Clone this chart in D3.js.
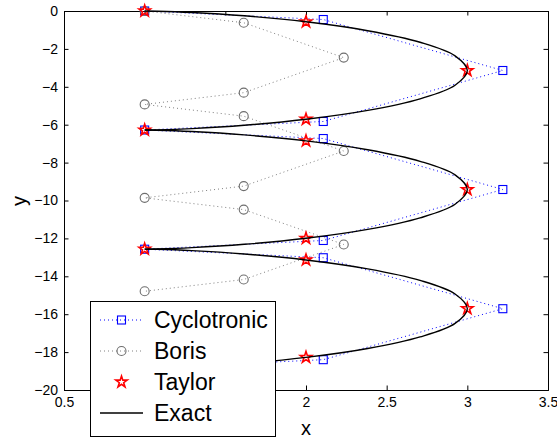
<!DOCTYPE html>
<html>
<head>
<meta charset="utf-8">
<script src="https://cdn.jsdelivr.net/npm/d3@7"></script>
<style>
  body { margin: 0; background: #fff; }
  svg { display: block; font-family: "Liberation Sans", Arial, sans-serif; }
</style>
</head>
<body>
<svg id="chart" width="557" height="438"></svg>
<script>
// values
var xTicks = [0.5, 1, 1.5, 2, 2.5, 3, 3.5];
var yTicks = [0, -2, -4, -6, -8, -10, -12, -14, -16, -18, -20];

var cycloX = [1, 2.107, 3.22, 2.107, 1, 2.107, 3.22, 2.107, 1, 2.107, 3.22, 2.107, 1];
var cycloY = [0, -0.45, -3.14, -5.83, -6.28, -6.73, -9.42, -12.11, -12.57, -13.02, -15.71, -18.40, -18.85];

var borisX = [1, 1.614, 2.234, 1.614, 1, 1.614, 2.234, 1.614, 1, 1.614, 2.234, 1.614, 1];
var borisY = [0, -0.62, -2.46, -4.31, -4.93, -5.55, -7.39, -9.24, -9.86, -10.48, -12.32, -14.17, -14.79];

var taylorX = [1, 2, 3, 2, 1, 2, 3, 2, 1, 2, 3, 2, 1];
var taylorY = [0, -0.571, -3.142, -5.712, -6.283, -6.854, -9.425, -11.996, -12.566, -13.137, -15.708, -18.279, -18.850];

// exact curve, three arches (cusp to cusp)
var exactX = [1, 1.0761, 1.2929, 1.6173, 2, 2.3827, 2.7071, 2.9239, 3, 2.9239, 2.7071, 2.3827, 2, 1.6173, 1.2929, 1.0761, 1];
var exactY1 = [0, -0.0100, -0.0783, -0.2542, -0.5708, -1.0396, -1.6491, -2.3662, -3.1416, -3.9170, -4.6341, -5.2436, -5.7124, -6.0290, -6.2049, -6.2732, -6.2832];
var exactY2 = [-6.2832, -6.2932, -6.3615, -6.5374, -6.8540, -7.3228, -7.9323, -8.6494, -9.4248, -10.2002, -10.9173, -11.5268, -11.9956, -12.3122, -12.4881, -12.5564, -12.5664];
var exactY3 = [-12.5664, -12.5764, -12.6447, -12.8206, -13.1372, -13.6060, -14.2155, -14.9326, -15.7080, -16.4834, -17.2005, -17.8100, -18.2788, -18.5954, -18.7713, -18.8396, -18.8496];

var seriesNames = ["Cyclotronic", "Boris", "Taylor", "Exact"];

const svg = d3.select("#chart"),
      axL = 64, axR = 548, axT = 11, axB = 390,
      x = d3.scaleLinear().domain([0.5, 3.5]).range([axL, axR]),
      y = d3.scaleLinear().domain([-20, 0]).range([axB, axT]);

svg.append("rect").attr("width", 557).attr("height", 438).attr("fill", "#fff");

// axes (ticks pointing inward, box all round)
const tk = 4.5;
svg.append("g").attr("transform", `translate(0,${axB})`)
   .call(d3.axisBottom(x).tickValues(xTicks).tickSize(-tk).tickPadding(7).tickFormat(d3.format("")));
svg.append("g").attr("transform", `translate(0,${axT})`)
   .call(d3.axisTop(x).tickValues(xTicks).tickSize(-tk).tickFormat(""));
svg.append("g").attr("transform", `translate(${axL},0)`)
   .call(d3.axisLeft(y).tickValues(yTicks).tickSize(-tk).tickPadding(6).tickFormat(d3.format("")));
svg.append("g").attr("transform", `translate(${axR},0)`)
   .call(d3.axisRight(y).tickValues(yTicks).tickSize(-tk).tickFormat(""));

svg.selectAll(".domain").attr("stroke", "#000").attr("stroke-width", 1);
svg.selectAll(".tick line").attr("stroke", "#000");
svg.selectAll(".tick text").style("font-size", "14px").attr("fill", "#000");

svg.append("text").attr("x", 306).attr("y", 435).attr("text-anchor", "middle")
   .style("font-size", "20px").text("x");
svg.append("text").attr("transform", "translate(26,201) rotate(-90)").attr("text-anchor", "middle")
   .style("font-size", "20px").text("y");

const pts = (xs, ys) => xs.map((v, i) => [v, ys[i]]);
const line = d3.line().x(d => x(d[0])).y(d => y(d[1]));
const smooth = d3.line().x(d => x(d[0])).y(d => y(d[1])).curve(d3.curveCatmullRom);

const cyclo = pts(cycloX, cycloY), boris = pts(borisX, borisY), taylor = pts(taylorX, taylorY);

// Cyclotronic
svg.append("path").attr("d", line(cyclo)).attr("fill", "none")
   .attr("stroke", "#0000ff").attr("stroke-width", 1).attr("stroke-dasharray", "1 3");
svg.selectAll(".sq").data(cyclo).enter().append("rect")
   .attr("x", d => x(d[0]) - 4).attr("y", d => y(d[1]) - 4)
   .attr("width", 8).attr("height", 8)
   .attr("fill", "none").attr("stroke", "#0000ff").attr("stroke-width", 1.1);

// Boris
svg.append("path").attr("d", line(boris)).attr("fill", "none")
   .attr("stroke", "#808080").attr("stroke-width", 1).attr("stroke-dasharray", "1 3");
svg.selectAll(".ci").data(boris).enter().append("circle")
   .attr("cx", d => x(d[0])).attr("cy", d => y(d[1])).attr("r", 4.5)
   .attr("fill", "none").attr("stroke", "#6e6e6e").attr("stroke-width", 1.1);

// Taylor
const star = d3.symbol().type(d3.symbolStar).size(40);
svg.selectAll(".st").data(taylor).enter().append("path")
   .attr("d", star).attr("transform", d => `translate(${x(d[0])},${y(d[1])})`)
   .attr("fill", "none").attr("stroke", "#ff0000").attr("stroke-width", 1.6);

// Exact
[exactY1, exactY2, exactY3].forEach(ys => {
  svg.append("path").attr("d", smooth(pts(exactX, ys))).attr("fill", "none")
     .attr("stroke", "#000").attr("stroke-width", 1.4);
});

// legend
const lg = svg.append("g");
lg.append("rect").attr("x", 90.5).attr("y", 301.5).attr("width", 185).attr("height", 135)
  .attr("fill", "#fff").attr("stroke", "#000").attr("stroke-width", 1);
const rowY = [320, 351, 382, 413];
seriesNames.forEach((name, i) => {
  const cy = rowY[i], mx = 121.5;
  if (i === 0 || i === 1) {
    lg.append("line").attr("x1", 100).attr("x2", 143).attr("y1", cy).attr("y2", cy)
      .attr("stroke", i === 0 ? "#0000ff" : "#808080").attr("stroke-dasharray", "1 3");
  }
  if (i === 0) lg.append("rect").attr("x", mx - 4).attr("y", cy - 4).attr("width", 8).attr("height", 8)
      .attr("fill", "none").attr("stroke", "#0000ff").attr("stroke-width", 1.1);
  if (i === 1) lg.append("circle").attr("cx", mx).attr("cy", cy).attr("r", 4.5)
      .attr("fill", "none").attr("stroke", "#6e6e6e").attr("stroke-width", 1.1);
  if (i === 2) lg.append("path").attr("d", star).attr("transform", `translate(${mx},${cy})`)
      .attr("fill", "none").attr("stroke", "#ff0000").attr("stroke-width", 1.6);
  if (i === 3) lg.append("line").attr("x1", 100).attr("x2", 143).attr("y1", cy).attr("y2", cy)
      .attr("stroke", "#000").attr("stroke-width", 1.4);
  lg.append("text").attr("x", 154).attr("y", cy).attr("dy", "0.35em")
    .style("font-size", "23px").text(name);
});
</script>
</body>
</html>
